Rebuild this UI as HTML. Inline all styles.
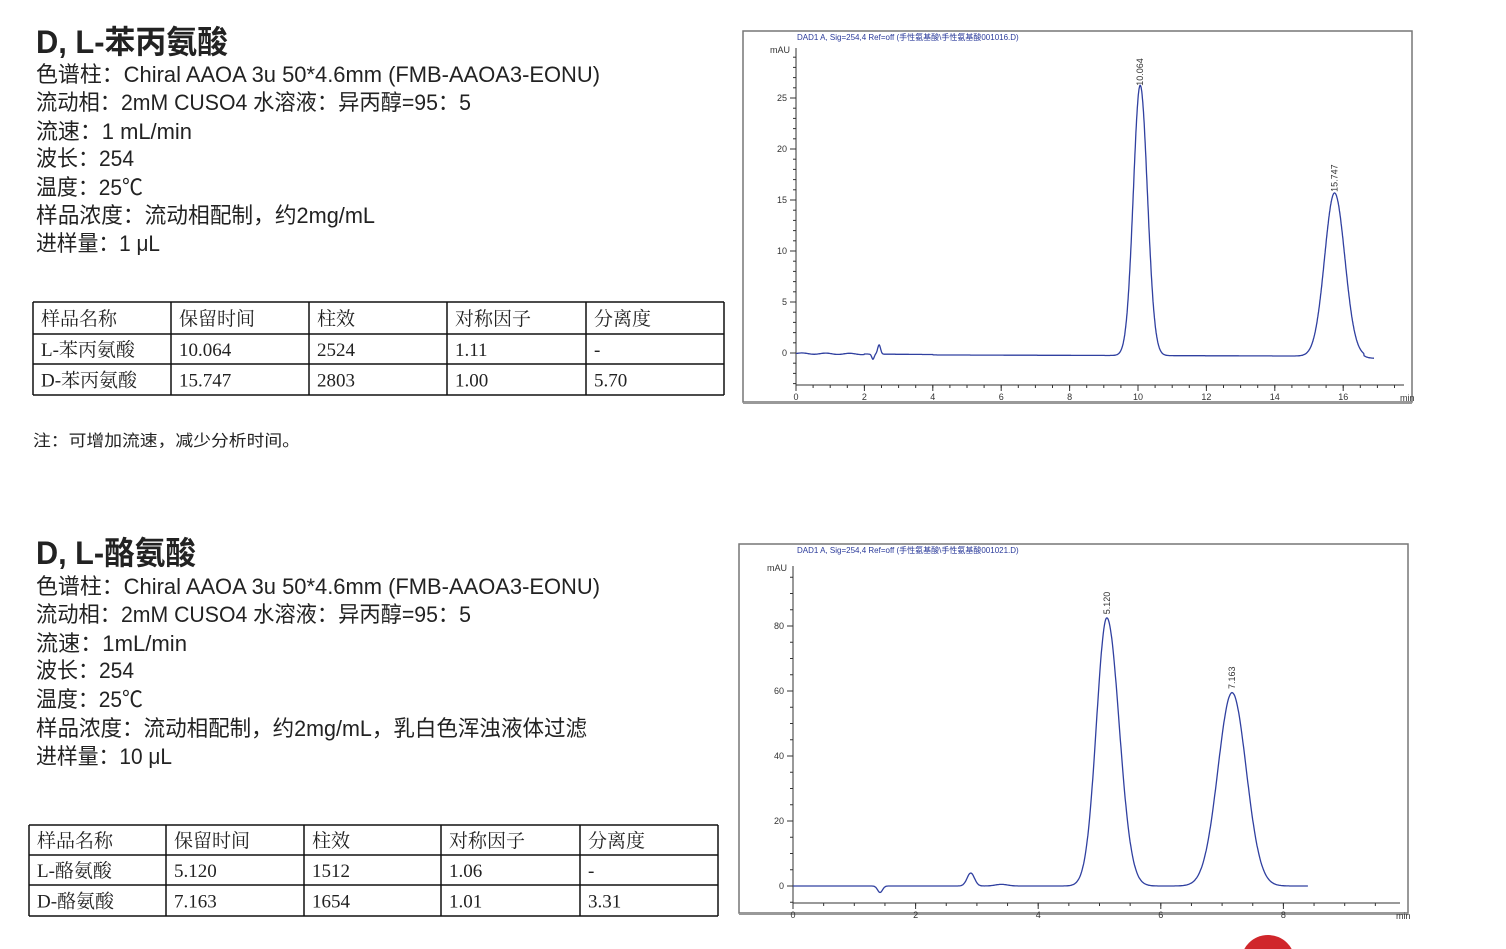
<!DOCTYPE html>
<html><head><meta charset="utf-8"><style>
html,body{margin:0;padding:0;background:#fff;}
body{width:1506px;height:949px;overflow:hidden;position:relative;}
svg{position:absolute;left:0;top:0;}
.t{font-family:"Liberation Sans","Noto Sans CJK SC",sans-serif;fill:#222;}
.s{font-family:"Liberation Serif","Noto Serif CJK SC",serif;fill:#222;font-size:19px;}
.ax{font-family:"Liberation Sans",sans-serif;fill:#333;font-size:9px;}
.hd{font-family:"Liberation Sans","Noto Sans CJK SC",sans-serif;fill:#2a3a9a;font-size:8px;}
</style></head><body>
<svg id="sv" width="1506" height="949" viewBox="0 0 1506 949">
<g class="t">
<text x="36" y="53" font-size="32" font-weight="bold" textLength="192" lengthAdjust="spacingAndGlyphs">D, L-苯丙氨酸</text>
<text x="36" y="82" font-size="22" textLength="564" lengthAdjust="spacingAndGlyphs">色谱柱：Chiral AAOA 3u 50*4.6mm (FMB-AAOA3-EONU)</text>
<text x="36" y="110" font-size="22" textLength="435" lengthAdjust="spacingAndGlyphs">流动相：2mM CUSO4 水溶液：异丙醇=95：5</text>
<text x="36" y="139" font-size="22" textLength="156" lengthAdjust="spacingAndGlyphs">流速：1 mL/min</text>
<text x="36" y="166" font-size="22" textLength="98" lengthAdjust="spacingAndGlyphs">波长：254</text>
<text x="36" y="195" font-size="22" textLength="107" lengthAdjust="spacingAndGlyphs">温度：25℃</text>
<text x="36" y="223" font-size="22" textLength="339" lengthAdjust="spacingAndGlyphs">样品浓度：流动相配制，约2mg/mL</text>
<text x="36" y="251" font-size="22" textLength="124" lengthAdjust="spacingAndGlyphs">进样量：1 μL</text>
<text x="33" y="446" font-size="16" textLength="267" lengthAdjust="spacingAndGlyphs">注：可增加流速，减少分析时间。</text>

<text x="36" y="564" font-size="32" font-weight="bold" textLength="160" lengthAdjust="spacingAndGlyphs">D, L-酪氨酸</text>
<text x="36" y="594" font-size="22" textLength="564" lengthAdjust="spacingAndGlyphs">色谱柱：Chiral AAOA 3u 50*4.6mm (FMB-AAOA3-EONU)</text>
<text x="36" y="622" font-size="22" textLength="435" lengthAdjust="spacingAndGlyphs">流动相：2mM CUSO4 水溶液：异丙醇=95：5</text>
<text x="36" y="651" font-size="22" textLength="151" lengthAdjust="spacingAndGlyphs">流速：1mL/min</text>
<text x="36" y="678" font-size="22" textLength="98" lengthAdjust="spacingAndGlyphs">波长：254</text>
<text x="36" y="707" font-size="22" textLength="107" lengthAdjust="spacingAndGlyphs">温度：25℃</text>
<text x="36" y="736" font-size="22" textLength="551" lengthAdjust="spacingAndGlyphs">样品浓度：流动相配制，约2mg/mL，乳白色浑浊液体过滤</text>
<text x="36" y="764" font-size="22" textLength="136" lengthAdjust="spacingAndGlyphs">进样量：10 μL</text>
</g>
<g id="tables" stroke="#111" stroke-width="1.5" fill="none"></g>
<g id="charts"></g>
<circle cx="1268" cy="962" r="27" fill="#d0262b"/>
</svg>
<script>
var NS="http://www.w3.org/2000/svg",sv=document.getElementById('sv');
function el(p,tag,a,txt){var e=document.createElementNS(NS,tag);for(var k in a)e.setAttribute(k,a[k]);if(txt!=null)e.textContent=txt;p.appendChild(e);return e;}
var tg=document.getElementById('tables');
function table(cols,rows,data){
  var x0=cols[0],x1=cols[cols.length-1],y0=rows[0],y1=rows[rows.length-1];
  rows.forEach(function(y){el(tg,'line',{x1:x0,y1:y,x2:x1,y2:y});});
  cols.forEach(function(x){el(tg,'line',{x1:x,y1:y0,x2:x,y2:y1});});
  data.forEach(function(r,i){r.forEach(function(c,j){
    el(sv,'text',{x:cols[j]+8,y:(rows[i]+rows[i+1])/2+7,'class':'s'},c);});});
}
table([33,171,309,447,586,724],[302,334,364,395],[["样品名称","保留时间","柱效","对称因子","分离度"],["L-苯丙氨酸","10.064","2524","1.11","-"],["D-苯丙氨酸","15.747","2803","1.00","5.70"]]);
table([29,166,304,441,580,718],[825,855,885,916],[["样品名称","保留时间","柱效","对称因子","分离度"],["L-酪氨酸","5.120","1512","1.06","-"],["D-酪氨酸","7.163","1654","1.01","3.31"]]);

var cg=document.getElementById('charts');
function chart(o){
  el(cg,'rect',{x:o.bx,y:o.by,width:o.bw,height:o.bh,fill:'none',stroke:'#777','stroke-width':1.5});
  el(cg,'line',{x1:o.bx,y1:o.by+o.bh+1,x2:o.bx+o.bw,y2:o.by+o.bh+1,stroke:'#999','stroke-width':2});
  el(cg,'text',{x:o.hx,y:o.by+9,'class':'hd'},o.head);
  var X=function(t){return o.x0+t*o.px;},Y=function(v){return o.y0-v*o.py;};
  el(cg,'line',{x1:o.x0,y1:o.ytop,x2:o.x0,y2:o.xa,stroke:'#333'});
  el(cg,'line',{x1:o.x0,y1:o.xa,x2:o.bx+o.bw-8,y2:o.xa,stroke:'#333'});
  el(cg,'text',{x:o.x0-26,y:o.ytop+5,'class':'ax','font-size':'8'},'mAU');
  el(cg,'text',{x:o.bx+o.bw-12,y:o.xa+16,'class':'ax','font-size':'8'},'min');
  for(var t=0;X(t)<o.bx+o.bw-10;t+=o.xmin){el(cg,'line',{x1:X(t),y1:o.xa,x2:X(t),y2:o.xa+3,stroke:'#333'});}
  for(var t=0;X(t)<o.bx+o.bw-10;t+=o.xmaj){el(cg,'line',{x1:X(t),y1:o.xa,x2:X(t),y2:o.xa+6,stroke:'#333'});
    el(cg,'text',{x:X(t),y:o.xa+15,'class':'ax','text-anchor':'middle'},String(t));}
  for(var v=o.ymin;Y(v)>o.ytop;v+=o.yminor){el(cg,'line',{x1:o.x0-3,y1:Y(v),x2:o.x0,y2:Y(v),stroke:'#333'});}
  for(var v=0;Y(v)>o.ytop+5;v+=o.ymaj){el(cg,'line',{x1:o.x0-6,y1:Y(v),x2:o.x0,y2:Y(v),stroke:'#333'});
    el(cg,'text',{x:o.x0-9,y:Y(v)+3,'class':'ax','text-anchor':'end'},String(v));}
  var d='';
  for(var t=0;t<=o.tend;t+=0.01){var v=o.base(t);o.peaks.forEach(function(p){v+=p[1]*Math.exp(-0.5*Math.pow((t-p[0])/(t<p[0]?p[2]:p[3]),2));});
    d+=(d?'L':'M')+X(t).toFixed(1)+' '+Y(v).toFixed(1);}
  el(cg,'path',{d:d,fill:'none',stroke:'#3040a0','stroke-width':1.3});
  o.labels.forEach(function(l){var x=X(l[0]),y=Y(l[1])-5;
    el(cg,'text',{x:x,y:y,'class':'ax',transform:'rotate(-90 '+(x+3)+' '+y+')'},l[2]);});
}
chart({bx:743,by:31,bw:669,bh:371,hx:797,head:'DAD1 A, Sig=254,4 Ref=off (手性氨基酸\\手性氨基酸001016.D)',
  x0:796,px:34.2,y0:353,py:10.2,xa:385,ytop:48,xmaj:2,xmin:0.5,ymaj:5,yminor:1,ymin:-3,tend:16.9,
  base:function(t){var b=-0.05-0.025*t;if(t>4)b=-0.15-0.01*t;b+=0.9*Math.exp(-Math.pow((t-2.43)/0.06,2));b-=0.5*Math.exp(-Math.pow((t-2.25)/0.05,2));if(t<2)b+=0.06*Math.sin(t*9);if(t>16.6)b-=0.2;return b;},
  peaks:[[10.064,26.5,0.2,0.21],[15.747,16,0.29,0.3]],labels:[[10.064,26,'10.064'],[15.747,15.6,'15.747']]});
chart({bx:739,by:544,bw:669,bh:369,hx:797,head:'DAD1 A, Sig=254,4 Ref=off (手性氨基酸\\手性氨基酸001021.D)',
  x0:793,px:61.3,y0:886,py:3.25,xa:903,ytop:566,xmaj:2,xmin:0.5,ymaj:20,yminor:5,ymin:-5,tend:8.4,
  base:function(t){var b=0;b+=4*Math.exp(-0.5*Math.pow((t-2.9)/0.06,2));b-=2*Math.exp(-0.5*Math.pow((t-1.42)/0.04,2));b+=0.5*Math.exp(-0.5*Math.pow((t-3.4)/0.1,2));return b;},
  peaks:[[5.12,82.5,0.17,0.2],[7.163,59.5,0.23,0.23]],labels:[[5.12,83,'5.120'],[7.163,60,'7.163']]});
</script>
</body></html>
